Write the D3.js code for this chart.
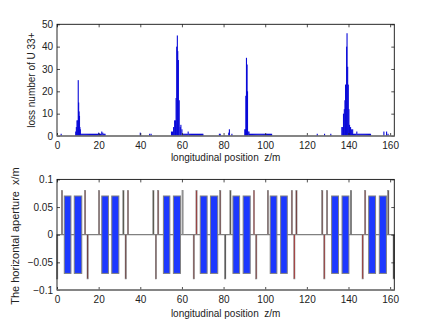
<!DOCTYPE html>
<html><head><meta charset="utf-8">
<script src="https://cdn.jsdelivr.net/npm/d3@7"></script>
<style>html,body{margin:0;padding:0;background:#fff}svg{display:block}text{font-family:"Liberation Sans",Arial,sans-serif;font-size:10px;fill:#222}</style>
</head><body><svg id="c" width="436" height="327"></svg>
<script>
const xTicks=[0,20,40,60,80,100,120,140,160];
const lossTicks=[0,10,20,30,40,50];
const apertureTicks=[-0.1,-0.05,0,0.05,0.1];
const apertureLabels=["\u22120.1","\u22120.05","0","0.05","0.1"];
// strong loss bars: position, count
const lossZ=[2,9,9.3,9.6,9.9,10.2,10.4,10.6,10.8,11,11.2,20,21.5,22,40,44.5,45.2,55,55.5,56,56.5,56.9,57.2,57.5,57.8,58,58.3,58.7,59.2,59.5,60,63,78,78.4,82.5,82.8,84,90.2,90.5,90.7,91,91.3,91.5,91.8,92.2,125,128.5,131.5,136.8,137.2,137.6,138,138.3,138.6,138.9,139.1,139.3,139.6,139.9,140.2,140.5,141,141.5,142,144,157,158.3,159];
const lossN=[1,2,4,7,7,25,15,11,9,4,3,1.5,2,1.5,1.5,1,1,2,2,4,7,7,17,40,45,38,34,16,4,5,3,2,1,1,1.5,3,1,3,3,18,35,32,20,2,2,1,1,1,4,4,10,12,16,23,23,40,46,31,23,12,5,4,3,3,2,2,2,1];
// continuous low-level loss after each peak
const lowZ=[11.5,12,12.5,13,13.5,14,14.5,15,15.5,16,16.5,17,17.5,18,18.5,19,19.5,20.5,21,22.5,23,60.5,61,61.5,62,62.5,63.5,64,64.5,65,65.5,66,66.5,67,67.5,68,68.5,69,69.5,70,92.5,93,93.5,94,94.5,95,95.5,96,96.5,97,97.5,98,98.5,99,99.5,100,100.5,101,101.5,102,102.5,103,141.8,142.5,143,143.5,144.5,145,145.5,146,146.5,147,147.5,148,148.5,149,149.5,150,150.5];
const lowN=[1,1,1,1,1,1,1,1,1,1,1,1,1,1,1,1,1,1,1,1,1,1,1,1,1,1,1,1,1,1,1,1,1,1,1,1,1,1,1,1,1,1,1,1,1,1,1,1,1,1,1,1,1,1,1,1,1,1,1,1,1,1,1,1,1,1,1,1,1,1,1,1,1,1,1,1,1,1,1];
// dipole magnets: start and end
const dipoleStart=[3.5,8.3,21.5,26.3,51.1,55.9,68.8,73.7,84.5,89.4,102.4,107.4,131.9,136.9,149.7,154.8];
const dipoleEnd=[6.7,11.9,24.7,29.7,54.2,59.3,72.1,77.2,87.7,92.8,105.6,110.6,135.2,140.2,153,158.2];
// quadrupoles: position, aperture, colour
const quadZ=[2.4,13.5,20.2,31.9,34.1,46.3,48.6,60.3,67,78.4,83.3,94.6,101.3,112.8,115,127.4,129.7,141.2,148,159.1,0.1,14.7,33,47.5,65.7,80.8,95.7,114,128.4,146.8,161.7];
const quadA=[.08,.08,.08,.08,.08,.08,.08,.08,.08,.08,.08,.08,.08,.08,.08,.08,.08,.08,.08,.08,-.08,-.08,-.08,-.08,-.08,-.08,-.08,-.08,-.08,-.08,-.08];
const quadC=["#5b2a2a","#6a2020","#5b2a2a","#443","#6a2020","#443","#6a2020","#999","#a02020","#5b2020","#443","#b81818","#5b2a2a","#6a2020","#6a2020","#5b2a2a","#5b2a2a","#222","#7a1a1a","#3a2020","#777","#6a2020","#5b2020","#5b2020","#6a2020","#111","#7a2020","#b81818","#a02020","#a01818","#222"];

const svg=d3.select("#c");
const L=57,R=394.3;
const x=d3.scaleLinear().domain([0,162]).range([L,R]);

function frame(y,yt,fmt){
  const g=svg.append("g");
  const T=y.range()[1],B=y.range()[0];
  const style=s=>s.call(a=>a.selectAll("path").remove()).call(a=>a.selectAll("line").attr("stroke","#222").attr("stroke-width",.8)).call(a=>a.selectAll("text").style("font-size","10px"));
  g.append("g").attr("transform",`translate(0,${B})`).call(d3.axisBottom(x).tickValues(xTicks).tickSize(-3).tickPadding(6).tickFormat(d3.format("d"))).call(style);
  g.append("g").attr("transform",`translate(0,${T})`).call(d3.axisTop(x).tickValues(xTicks).tickSize(-3).tickFormat("")).call(style);
  g.append("g").attr("transform",`translate(${L},0)`).call(d3.axisLeft(y).tickValues(yt).tickSize(-3).tickPadding(4).tickFormat(fmt)).call(style);
  g.append("g").attr("transform",`translate(${R},0)`).call(d3.axisRight(y).tickValues(yt).tickSize(-3).tickFormat("")).call(style);
  g.append("rect").attr("x",L).attr("y",T).attr("width",R-L).attr("height",B-T).attr("fill","none").attr("stroke","#111").attr("stroke-width",.9);
}

// Upper panel
const y1=d3.scaleLinear().domain([0,50]).range([136,24.3]);
svg.append("g").selectAll("rect").data(d3.zip(lowZ,lowN)).join("rect")
  .attr("x",d=>x(d[0])-.7).attr("width",1.4).attr("y",d=>y1(d[1])).attr("height",d=>y1(0)-y1(d[1])).attr("fill","#0a0ad8");
svg.append("g").selectAll("rect").data(d3.zip(lossZ,lossN)).join("rect")
  .attr("x",d=>x(d[0])-.55).attr("width",1.1).attr("y",d=>y1(d[1])).attr("height",d=>y1(0)-y1(d[1])).attr("fill","#0a0ad8");
frame(y1,lossTicks,d3.format("d"));
svg.append("line").attr("x1",L).attr("x2",R).attr("y1",y1(0)).attr("y2",y1(0)).attr("stroke","#808080").attr("stroke-width",1.6);
svg.append("text").attr("x",x(81)).attr("y",161).attr("text-anchor","middle").style("white-space","pre").text("longitudinal position  z/m");
svg.append("text").attr("transform",`translate(35,${y1(25)}) rotate(-90)`).attr("text-anchor","middle").text("loss number of U 33+");

// Lower panel
const y2=d3.scaleLinear().domain([-.1,.1]).range([290,179.4]);
svg.append("line").attr("x1",L).attr("x2",R).attr("y1",y2(0)).attr("y2",y2(0)).attr("stroke","#808080").attr("stroke-width",1.3);
svg.append("g").selectAll("rect").data(d3.zip(dipoleStart,dipoleEnd)).join("rect")
  .attr("x",d=>x(d[0])).attr("width",d=>x(d[1])-x(d[0])).attr("y",y2(.07)).attr("height",y2(-.07)-y2(.07))
  .attr("fill","#1c38ff").attr("stroke","#808080").attr("stroke-width",1);
svg.append("g").selectAll("rect").data(d3.zip(quadZ,quadA,quadC)).join("rect")
  .attr("x",d=>x(d[0])-.6).attr("width",1.2).attr("y",d=>Math.min(y2(d[1]),y2(0))).attr("height",d=>Math.abs(y2(d[1])-y2(0)))
  .attr("fill",d=>d[2]).attr("stroke","#888").attr("stroke-width",.6);
frame(y2,apertureTicks,(d,i)=>apertureLabels[i]);
svg.append("line").attr("x1",L).attr("x2",R).attr("y1",y2(-.1)).attr("y2",y2(-.1)).attr("stroke","#808080").attr("stroke-width",1.3);
svg.append("text").attr("x",x(81)).attr("y",317).attr("text-anchor","middle").style("white-space","pre").text("longitudinal position  z/m");
svg.append("text").attr("transform",`translate(19,236) rotate(-90)`).attr("text-anchor","middle").style("white-space","pre").style("font-size","11px").text("The horizontal aperture  x/m");
</script></body></html>
